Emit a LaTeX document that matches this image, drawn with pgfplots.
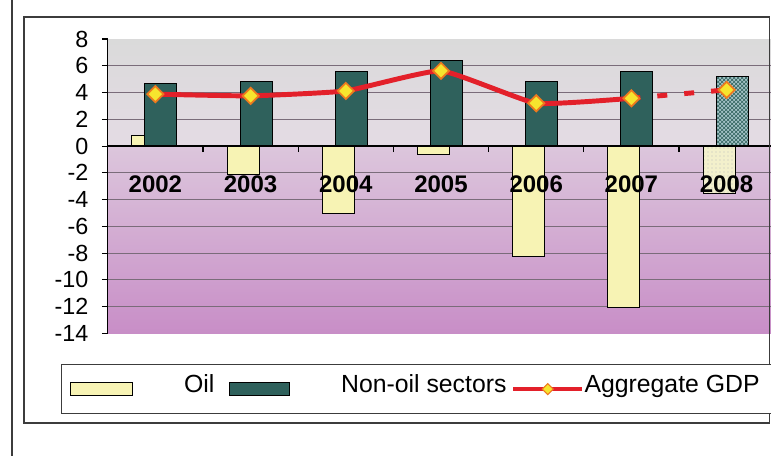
\documentclass[border=0pt]{standalone}
\usepackage{fontspec}
\setmainfont{Liberation Sans}
\usepackage{pgfplots}
\usepackage{pgfplotstable}
\pgfplotsset{compat=1.18}
\usetikzlibrary{patterns}
\definecolor{oilc}{HTML}{F7F3B4}
\definecolor{oilp}{HTML}{F3F0CC}
\definecolor{nonoil}{HTML}{2F615C}
\definecolor{nonoilp}{HTML}{A3C2C6}
\definecolor{gdpred}{HTML}{E3202A}
\definecolor{diamf}{HTML}{F6E52E}
\definecolor{diamd}{HTML}{EE7A1E}
\definecolor{bgtop}{HTML}{DADADA}
\definecolor{bgmid}{HTML}{E4DBE4}
\definecolor{bgz}{HTML}{DCC6DC}
\definecolor{bgbot}{HTML}{C88EC7}
\definecolor{gridc}{HTML}{7A6C7A}
\definecolor{framec}{HTML}{3C3C3C}
\pgfdeclareverticalshading{bgshade}{100bp}{color(0bp)=(bgbot); color(25bp)=(bgbot); color(56.8bp)=(bgz); color(56.85bp)=(bgmid); color(75bp)=(bgtop); color(100bp)=(bgtop)}

\pgfplotstableread{
x oil nonoil
0 0.8 4.65
1 -2.1 4.85
2 -5.05 5.55
3 -0.6 6.4
4 -8.25 4.85
5 -12.1 5.55
}\bars
\pgfplotstableread{
x oil nonoil
6 -3.55 5.2
}\barsest
\pgfplotstableread{
x gdp
0 3.88
1 3.75
2 4.12
3 5.62
4 3.2
5 3.57
}\gdpsolid
\pgfplotstableread{
x gdp
5 3.57
6 4.2
}\gdpdash
\pgfplotstableread{
x gdp
0 3.88
1 3.75
2 4.12
3 5.62
4 3.2
5 3.57
6 4.2
}\gdpall

\begin{document}
\begin{tikzpicture}
\begin{axis}[
  set layers,
  every axis plot/.append style={on layer=axis ticks},
  axis background/.style={shade, shading=bgshade},
  scale only axis,
  width=499.8pt, height=220.7pt,
  at={(80.85pt,92.025pt)}, anchor=south west,
  xmin=-0.5, xmax=6.5, ymin=-14, ymax=8,
  axis y line=left, axis x line=middle,
  axis line style={-, black, line width=0.9pt},
  tick align=outside,
  major tick length=4.5pt,
  tick style={black, line width=0.8pt},
  ytick={-14,-12,...,8},
  extra y ticks={-12,-10,-8,-6,-4,-2,2,4,6},
  extra y tick labels={,,,,,,,,},
  extra y tick style={grid=major, major tick length=0pt},
  grid style={gridc, line width=0.8pt},
  xtick={0.5,1.5,2.5,3.5,4.5,5.5},
  xticklabels={,,,,,},
  extra x ticks={0,1,2,3,4,5,6},
  extra x tick labels={2002,2003,2004,2005,2006,2007,2008},
  extra x tick style={major tick length=0pt},
  xticklabel style={font=\bfseries\fontsize{18}{18}\selectfont, anchor=center, yshift=-29pt},
  yticklabel style={font=\fontsize{17.5}{17.5}\selectfont, xshift=-6.5pt},
  /pgf/number format/assume math mode=true,
  legend columns=3,
  legend style={at={(-0.0702,-0.1043)}, anchor=north west, draw=framec, line width=0.9pt, fill=white,
    inner xsep=6pt, inner ysep=8.6pt,
    cells={anchor=west},
    nodes={inner sep=0pt, text height=12.6pt, text depth=7pt},
    font=\fontsize{18.6}{18.6}\selectfont,
    /tikz/every even column/.style={column sep=0pt}},
]
\addplot[ybar, bar width=0.336, bar shift=-0.079, fill=oilc, draw=black, line width=0.8pt, forget plot] table[x=x,y=oil] {\bars};
\addplot[ybar, bar width=0.336, bar shift=-0.079, fill=oilp, draw=black, line width=0.8pt, postaction={pattern=dots, pattern color=black!25}, forget plot] table[x=x,y=oil] {\barsest};
\addplot[ybar, bar width=0.336, bar shift=0.058, fill=nonoil, draw=black, line width=0.8pt, forget plot] table[x=x,y=nonoil] {\bars};
\addplot[ybar, bar width=0.336, bar shift=0.058, fill=nonoilp, draw=black, line width=0.8pt, postaction={pattern=crosshatch, pattern color=nonoil}, forget plot] table[x=x,y=nonoil] {\barsest};
\addplot[gdpred, line width=3.7pt, smooth, tension=0.25, no markers, forget plot] table[x=x,y=gdp] {\gdpsolid};
\addplot[gdpred, line width=3.7pt, dash pattern=on 7.5pt off 12.75pt, dash phase=0.75pt, no markers, forget plot] table[x=x,y=gdp] {\gdpdash};
\addplot[only marks, mark=square*, mark size=4.3pt, mark options={rotate=45, fill=diamf, draw=diamd, line width=1.3pt, solid}, forget plot] table[x=x,y=gdp] {\gdpall};

\addlegendimage{legend image code/.code={
  \path[draw=none] (0pt,0pt) -- (85.5pt,0pt);
  \draw[fill=oilc, draw=black, line width=0.8pt] (0pt,-4.875pt) rectangle (46.5pt,4.875pt);}}
\addlegendentry{Oil}
\addlegendimage{legend image code/.code={
  \path[draw=none] (-11pt,0pt) -- (84pt,0pt);
  \draw[fill=nonoil, draw=black, line width=0.8pt] (0pt,-4.875pt) rectangle (45pt,4.875pt);}}
\addlegendentry{Non-oil sectors}
\addlegendimage{legend image code/.code={
  \path[draw=none] (-5pt,0pt) -- (52.5pt,0pt);
  \draw[gdpred, line width=3.5pt] (0pt,0pt) -- (51.75pt,0pt);
  \draw[fill=diamf, draw=diamd, line width=0.8pt] (25.9pt,4.1pt) -- (30pt,0pt) -- (25.9pt,-4.1pt) -- (21.8pt,0pt) -- cycle;}}
\addlegendentry{Aggregate GDP\hspace*{20pt}}
\end{axis}
\begin{scope}[x=0.75pt,y=0.75pt]
\draw[framec, line width=1pt] (12,-5) -- (12,461);
\draw[framec, line width=1.1pt] (24,33) rectangle (769.5,439);
\pgfresetboundingbox
\path[use as bounding box] (0,0) rectangle (771,456);
\end{scope}
\end{tikzpicture}
\end{document}
